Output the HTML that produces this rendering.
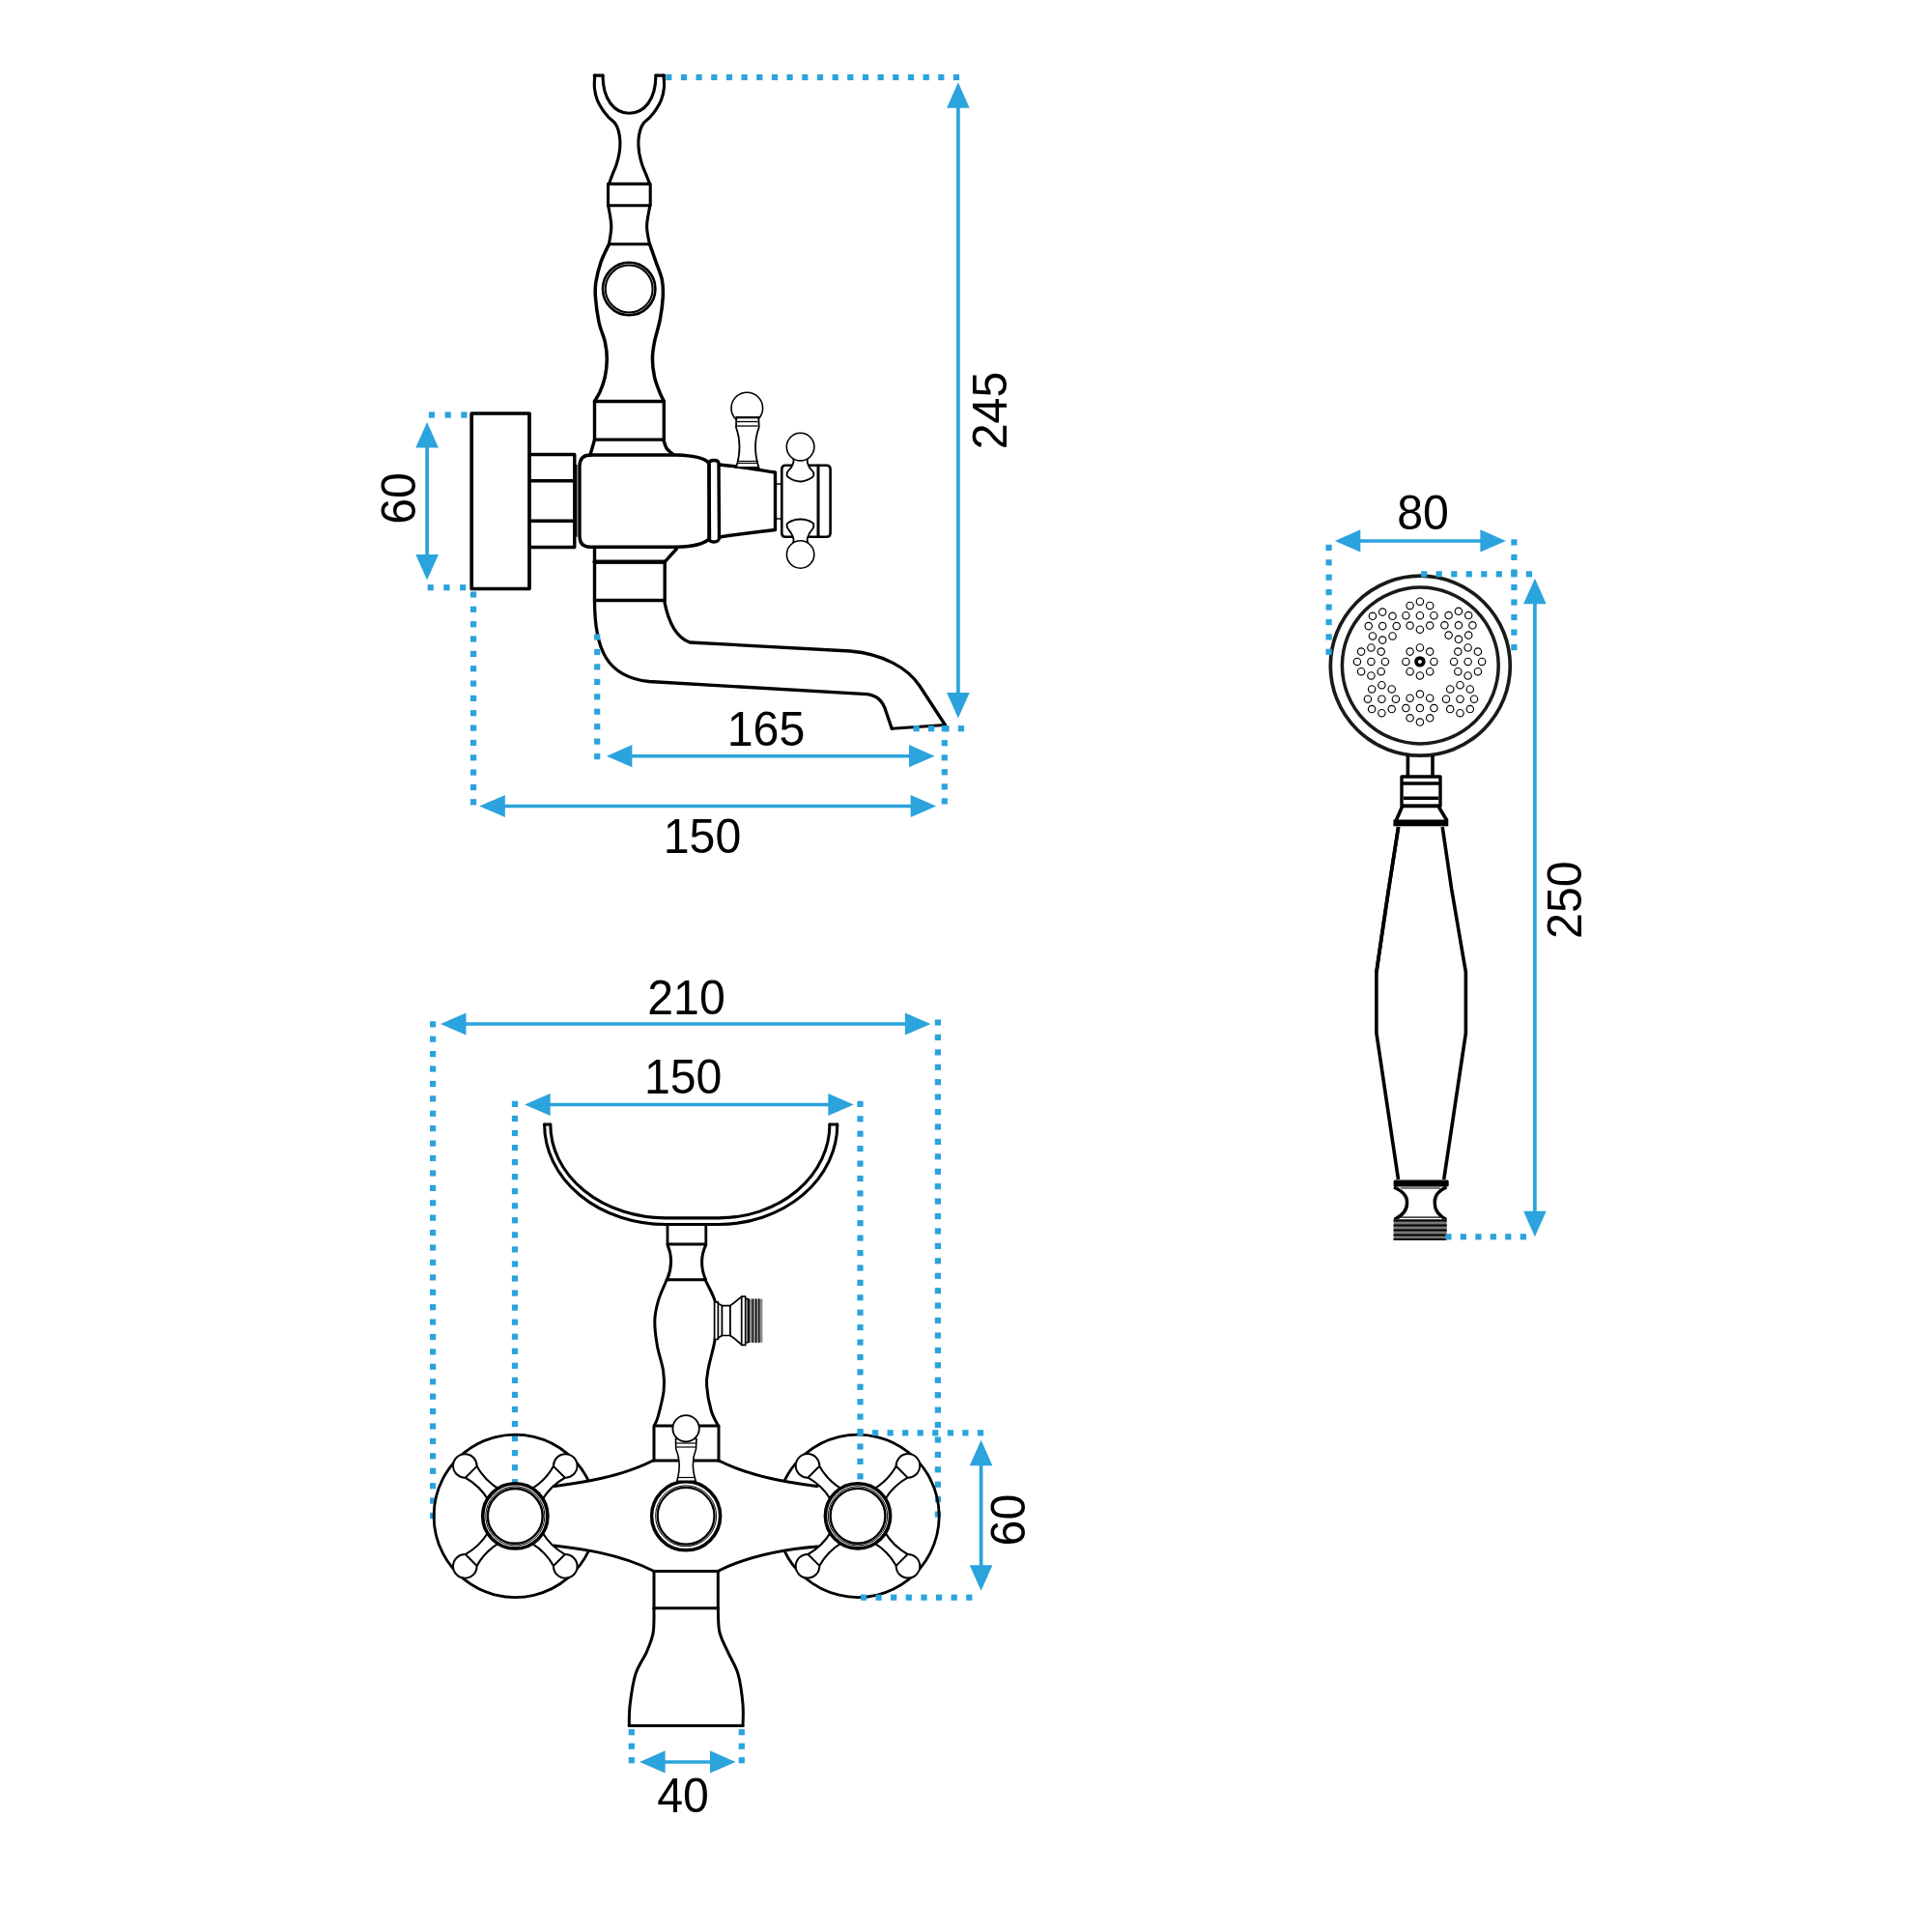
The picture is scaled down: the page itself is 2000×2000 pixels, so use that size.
<!DOCTYPE html>
<html><head><meta charset="utf-8"><style>
html,body{margin:0;padding:0;background:#fff;}
svg{display:block;}
text{font-family:"Liberation Sans",sans-serif;fill:#000;}
</style></head><body>
<svg width="2000" height="2000" viewBox="0 0 2000 2000">
<rect width="2000" height="2000" fill="#fff"/>
<g fill="none" stroke="#000" stroke-linejoin="round" stroke-linecap="round">
<path d="M615.7 78.1 C615.7 80.2 615.0 86.8 615.4 91.0 C615.8 95.2 616.9 99.8 618.3 103.5 C619.6 107.2 621.6 110.2 623.5 113.1 C625.4 116.0 627.6 118.7 629.7 121.1 C631.9 123.5 634.7 125.1 636.4 127.3 C638.1 129.5 639.1 131.4 640.0 134.5 C640.9 137.6 641.7 142.0 641.9 146.0 C642.1 150.0 641.8 154.2 641.1 158.3 C640.5 162.4 639.2 167.0 638.0 170.8 C636.8 174.6 635.0 177.8 633.8 181.1 C632.5 184.4 631.0 188.8 630.5 190.4" stroke-width="3.1" />
<path d="M624 78.1 C624 103, 636 117.2, 651.4 117.2 C667 117.2, 678.9 103, 678.9 78.1" stroke-width="3.1" />
<path d="M687.1 78.1 C687.1 80.2 687.8 86.8 687.4 91.0 C687.0 95.2 685.9 99.8 684.5 103.5 C683.1 107.2 681.2 110.2 679.3 113.1 C677.4 116.0 675.2 118.7 673.1 121.1 C671.0 123.5 668.1 125.1 666.4 127.3 C664.7 129.5 663.7 131.4 662.8 134.5 C661.9 137.6 661.1 142.0 660.9 146.0 C660.7 150.0 661.1 154.2 661.7 158.3 C662.4 162.4 663.6 167.0 664.8 170.8 C666.0 174.6 667.7 177.8 669.0 181.1 C670.3 184.4 672.0 188.8 672.6 190.4" stroke-width="3.1" />
<line x1="615.2" y1="78.1" x2="624.0" y2="78.1" stroke-width="3.1"/>
<line x1="678.9" y1="78.1" x2="687.7" y2="78.1" stroke-width="3.1"/>
<path d="M629.5 190.4 L673.2 190.4 L673.2 212.7 L629.5 212.7 Z" stroke-width="3.1" />
<path d="M629.7 213.0 C630.2 216.5 632.7 227.3 632.8 233.9 C632.9 240.5 630.8 249.6 630.4 252.7" stroke-width="3.1" />
<path d="M672.8 213.0 C672.3 216.5 669.7 227.3 669.6 233.9 C669.5 240.5 671.9 249.6 672.4 252.7" stroke-width="3.1" />
<line x1="630.4" y1="252.7" x2="672.6" y2="252.7" stroke-width="3.1"/>
<path d="M630.4 252.9 C629.0 255.9 624.4 264.6 622.1 271.1 C619.9 277.6 617.9 285.8 616.9 291.8 C615.9 297.8 615.9 300.4 616.4 307.3 C616.9 314.2 618.4 325.7 620.0 333.5 C621.6 341.3 624.9 347.6 626.3 353.9 C627.7 360.2 628.3 365.5 628.3 371.5 C628.3 377.5 627.5 384.4 626.3 390.1 C625.1 395.8 622.9 401.4 621.1 405.6 C619.3 409.8 616.4 413.7 615.5 415.3" stroke-width="3.5" />
<path d="M672.6 252.9 C673.7 255.9 676.9 265.0 679.0 271.1 C681.1 277.2 684.1 283.7 685.3 289.7 C686.5 295.7 686.6 300.4 686.3 307.3 C685.9 314.2 684.7 323.3 683.2 331.1 C681.7 338.9 678.8 347.2 677.5 353.9 C676.2 360.6 675.4 365.5 675.4 371.5 C675.4 377.5 676.3 384.4 677.5 390.1 C678.7 395.8 681.1 401.4 682.7 405.6 C684.3 409.8 686.5 413.7 687.3 415.3" stroke-width="3.5" />
<circle cx="651.2" cy="299" r="27.2" stroke-width="2.6"/>
<circle cx="651.2" cy="299" r="24.4" stroke-width="2.0"/>
<path d="M615.5 415.5 L687.3 415.5 M615.5 415.5 L615.5 455.1 M687.3 415.5 L687.3 455.1 M615.5 455.1 L687.3 455.1" stroke-width="3.4" />
<path d="M615.5 455.1 C615.1 456.6 613.8 461.3 613.0 464.0 C612.2 466.7 611.2 470.2 610.8 471.4" stroke-width="3.4" />
<path d="M686.9 455.1 C687.4 456.6 688.3 461.4 690.0 464.0 C691.7 466.6 695.8 469.4 697.0 470.5" stroke-width="3.4" />
<path d="M611 471 L700 471 C718 471.5, 730 474, 734 479.5 L734.5 557.5 C730 562.5, 718 565.8, 700 566.2 L611 566.2 C603.5 566.2, 600 562, 600 555 L600 483 C600 475, 603.5 471, 611 471 Z" stroke-width="3.4" />
<line x1="596.8" y1="481.5" x2="596.8" y2="555.3" stroke-width="1.5"/>
<path d="M488.2 428 L548 428 L548 609.5 L488.2 609.5 Z" stroke-width="3.7" />
<path d="M549 470.5 L594.8 470.5 L594.8 566.5 L549 566.5 M549 497.8 L594.8 497.8 M549 539.2 L594.8 539.2" stroke-width="3.4" />
<path d="M615.5 567 L615.5 621.5 M688.2 581.7 L688.2 621.5 M615.5 581.7 L688.2 581.7 M615.5 621.5 L688.2 621.5" stroke-width="3.4" />
<path d="M700.5 568 L688.2 581.7" stroke-width="3.4" />
<line x1="615.5" y1="581.7" x2="688.2" y2="581.7" stroke-width="4.2"/>
<path d="M615.5 621.5 C615.5 672, 628 701, 672 705.5 L898 718.7 C908 720, 914 726, 917 736 L923.2 754.2" stroke-width="3.3" />
<path d="M687.6 621.5 C692 645, 700 660, 714 665 L880 674 C915 677, 940 692, 952 710 L978.4 750.5" stroke-width="3.3" />
<line x1="923.2" y1="754.2" x2="978.4" y2="750.5" stroke-width="3.0"/>
<path d="M734 480 C734 477.5, 736 476.5, 739 476.5 C742 476.5, 744 477.5, 744 480 L744.5 557 C744.5 559.5, 742 561, 739 561 C736 561, 734 559.5, 734 557 Z" stroke-width="3.4" />
<path d="M744.7 481 C765 483, 785 486.5, 802.5 489 L802.5 548.5 C785 550.5, 765 553, 744.7 556" stroke-width="3.4" />
<path d="M802.5 501 L809.3 501 M802.5 537 L809.3 537" stroke-width="1.5" />
<path d="M813 481.8 L855.5 481.8 C858.3 481.8, 859.6 483.5, 859.6 486 L859.6 551.5 C859.6 554, 858.3 555.8, 855.5 555.8 L813 555.8 C810.5 555.8, 809.3 554, 809.3 551.5 L809.3 486 C809.3 483.5, 810.5 481.8, 813 481.8 Z" stroke-width="2.6" />
<line x1="847.0" y1="482.0" x2="847.0" y2="555.5" stroke-width="3"/>
</g>
<g fill="#fff" stroke="#000" stroke-width="1.6">
<path d="M820.5 472.0 C820.7 473.0 821.8 476.0 821.5 478.0 C821.2 480.0 820.1 482.2 819.0 484.0 C817.9 485.8 815.5 487.3 815.0 489.0 C814.5 490.7 813.7 492.4 816.0 494.0 C818.3 495.6 824.4 498.5 828.6 498.5 C832.8 498.5 838.8 495.6 841.0 494.0 C843.2 492.4 842.5 490.7 842.0 489.0 C841.5 487.3 839.0 485.8 838.0 484.0 C837.0 482.2 835.9 480.0 835.7 478.0 C835.5 476.0 836.5 473.0 836.7 472.0" stroke-width="1.8" />
<circle cx="828.6" cy="462.6" r="14.3"/>
<path d="M820.5 564.0 C820.7 563.0 821.8 560.0 821.5 558.0 C821.2 556.0 820.1 554.0 819.0 552.0 C817.9 550.0 815.5 547.8 815.0 546.0 C814.5 544.2 813.7 542.4 816.0 541.0 C818.3 539.6 824.4 537.5 828.6 537.5 C832.8 537.5 838.8 539.6 841.0 541.0 C843.2 542.4 842.5 544.2 842.0 546.0 C841.5 547.8 839.0 550.0 838.0 552.0 C837.0 554.0 835.9 556.0 835.7 558.0 C835.5 560.0 836.5 563.0 836.7 564.0" stroke-width="1.8" />
<circle cx="828.6" cy="574" r="14.2"/>
<circle cx="773.3" cy="422.5" r="16.3"/>
<path d="M762.3 432 L785.3 432 L785.7 442.5 C781 455, 781 470, 785.5 484 L762 484 C766.5 470, 766.5 455, 762 442.5 Z" stroke-width="1.8" />
<line x1="762.5" y1="432.5" x2="785.0" y2="432.5" stroke-width="1.6"/>
<line x1="763.0" y1="436.5" x2="784.5" y2="436.5" stroke-width="1.3"/>
<line x1="763.0" y1="441.0" x2="784.5" y2="441.0" stroke-width="1.3"/>
<line x1="763.0" y1="477.5" x2="784.5" y2="477.5" stroke-width="1.3"/>
<line x1="763.0" y1="479.5" x2="784.5" y2="479.5" stroke-width="1.0"/>
</g>
<rect x="689.2" y="76.9" width="6.2" height="6.2" fill="#2ba3dc"/>
<rect x="704.9" y="76.9" width="6.2" height="6.2" fill="#2ba3dc"/>
<rect x="720.5" y="76.9" width="6.2" height="6.2" fill="#2ba3dc"/>
<rect x="736.2" y="76.9" width="6.2" height="6.2" fill="#2ba3dc"/>
<rect x="751.9" y="76.9" width="6.2" height="6.2" fill="#2ba3dc"/>
<rect x="767.5" y="76.9" width="6.2" height="6.2" fill="#2ba3dc"/>
<rect x="783.2" y="76.9" width="6.2" height="6.2" fill="#2ba3dc"/>
<rect x="798.9" y="76.9" width="6.2" height="6.2" fill="#2ba3dc"/>
<rect x="814.5" y="76.9" width="6.2" height="6.2" fill="#2ba3dc"/>
<rect x="830.2" y="76.9" width="6.2" height="6.2" fill="#2ba3dc"/>
<rect x="845.9" y="76.9" width="6.2" height="6.2" fill="#2ba3dc"/>
<rect x="861.6" y="76.9" width="6.2" height="6.2" fill="#2ba3dc"/>
<rect x="877.2" y="76.9" width="6.2" height="6.2" fill="#2ba3dc"/>
<rect x="892.9" y="76.9" width="6.2" height="6.2" fill="#2ba3dc"/>
<rect x="908.6" y="76.9" width="6.2" height="6.2" fill="#2ba3dc"/>
<rect x="924.2" y="76.9" width="6.2" height="6.2" fill="#2ba3dc"/>
<rect x="939.9" y="76.9" width="6.2" height="6.2" fill="#2ba3dc"/>
<rect x="955.6" y="76.9" width="6.2" height="6.2" fill="#2ba3dc"/>
<rect x="971.2" y="76.9" width="6.2" height="6.2" fill="#2ba3dc"/>
<rect x="986.9" y="76.9" width="6.2" height="6.2" fill="#2ba3dc"/>
<line x1="991.9" y1="110.7" x2="991.9" y2="718.1" stroke="#2ba3dc" stroke-width="3.7"/>
<polygon points="991.9,85.2 980.1,111.7 1003.7,111.7" fill="#2ba3dc"/>
<polygon points="991.9,743.6 980.1,717.1 1003.7,717.1" fill="#2ba3dc"/>
<rect x="945.5" y="751.1" width="6.2" height="6.2" fill="#2ba3dc"/>
<rect x="961.0" y="751.1" width="6.2" height="6.2" fill="#2ba3dc"/>
<rect x="976.4" y="751.1" width="6.2" height="6.2" fill="#2ba3dc"/>
<rect x="991.9" y="751.1" width="6.2" height="6.2" fill="#2ba3dc"/>
<text transform="translate(1025.0 425.0) rotate(-90) scale(0.965 1)" x="0" y="17.3" text-anchor="middle" font-size="50">245</text>
<rect x="443.9" y="426.4" width="6.2" height="6.2" fill="#2ba3dc"/>
<rect x="460.6" y="426.4" width="6.2" height="6.2" fill="#2ba3dc"/>
<rect x="477.3" y="426.4" width="6.2" height="6.2" fill="#2ba3dc"/>
<rect x="442.6" y="605.1" width="6.2" height="6.2" fill="#2ba3dc"/>
<rect x="459.3" y="605.1" width="6.2" height="6.2" fill="#2ba3dc"/>
<rect x="476.1" y="605.1" width="6.2" height="6.2" fill="#2ba3dc"/>
<line x1="442.1" y1="462.6" x2="442.1" y2="575.1" stroke="#2ba3dc" stroke-width="3.7"/>
<polygon points="442.1,437.1 430.3,463.6 453.9,463.6" fill="#2ba3dc"/>
<polygon points="442.1,600.6 430.3,574.1 453.9,574.1" fill="#2ba3dc"/>
<text transform="translate(413.0 516.0) rotate(-90) scale(0.965 1)" x="0" y="17.3" text-anchor="middle" font-size="50">60</text>
<rect x="487.0" y="612.4" width="6.2" height="6.2" fill="#2ba3dc"/>
<rect x="487.0" y="627.7" width="6.2" height="6.2" fill="#2ba3dc"/>
<rect x="487.0" y="643.1" width="6.2" height="6.2" fill="#2ba3dc"/>
<rect x="487.0" y="658.4" width="6.2" height="6.2" fill="#2ba3dc"/>
<rect x="487.0" y="673.8" width="6.2" height="6.2" fill="#2ba3dc"/>
<rect x="487.0" y="689.1" width="6.2" height="6.2" fill="#2ba3dc"/>
<rect x="487.0" y="704.5" width="6.2" height="6.2" fill="#2ba3dc"/>
<rect x="487.0" y="719.8" width="6.2" height="6.2" fill="#2ba3dc"/>
<rect x="487.0" y="735.1" width="6.2" height="6.2" fill="#2ba3dc"/>
<rect x="487.0" y="750.5" width="6.2" height="6.2" fill="#2ba3dc"/>
<rect x="487.0" y="765.8" width="6.2" height="6.2" fill="#2ba3dc"/>
<rect x="487.0" y="781.2" width="6.2" height="6.2" fill="#2ba3dc"/>
<rect x="487.0" y="796.5" width="6.2" height="6.2" fill="#2ba3dc"/>
<rect x="487.0" y="811.9" width="6.2" height="6.2" fill="#2ba3dc"/>
<rect x="487.0" y="827.2" width="6.2" height="6.2" fill="#2ba3dc"/>
<rect x="615.1" y="656.4" width="6.2" height="6.2" fill="#2ba3dc"/>
<rect x="615.1" y="671.9" width="6.2" height="6.2" fill="#2ba3dc"/>
<rect x="615.1" y="687.3" width="6.2" height="6.2" fill="#2ba3dc"/>
<rect x="615.1" y="702.8" width="6.2" height="6.2" fill="#2ba3dc"/>
<rect x="615.1" y="718.2" width="6.2" height="6.2" fill="#2ba3dc"/>
<rect x="615.1" y="733.6" width="6.2" height="6.2" fill="#2ba3dc"/>
<rect x="615.1" y="749.1" width="6.2" height="6.2" fill="#2ba3dc"/>
<rect x="615.1" y="764.5" width="6.2" height="6.2" fill="#2ba3dc"/>
<rect x="615.1" y="780.0" width="6.2" height="6.2" fill="#2ba3dc"/>
<rect x="974.7" y="751.1" width="6.2" height="6.2" fill="#2ba3dc"/>
<rect x="974.7" y="766.1" width="6.2" height="6.2" fill="#2ba3dc"/>
<rect x="974.7" y="781.2" width="6.2" height="6.2" fill="#2ba3dc"/>
<rect x="974.7" y="796.2" width="6.2" height="6.2" fill="#2ba3dc"/>
<rect x="974.7" y="811.3" width="6.2" height="6.2" fill="#2ba3dc"/>
<rect x="974.7" y="826.3" width="6.2" height="6.2" fill="#2ba3dc"/>
<line x1="653.4" y1="782.7" x2="942.0" y2="782.7" stroke="#2ba3dc" stroke-width="3.5"/>
<polygon points="627.9,782.7 654.4,771.1 654.4,794.3" fill="#2ba3dc"/>
<polygon points="967.5,782.7 941.0,771.1 941.0,794.3" fill="#2ba3dc"/>
<text transform="translate(793.0 754.2) scale(0.965 1)" x="0" y="17.3" text-anchor="middle" font-size="50">165</text>
<line x1="521.8" y1="834.5" x2="943.7" y2="834.5" stroke="#2ba3dc" stroke-width="3.5"/>
<polygon points="496.3,834.5 522.8,822.9 522.8,846.1" fill="#2ba3dc"/>
<polygon points="969.2,834.5 942.7,822.9 942.7,846.1" fill="#2ba3dc"/>
<text transform="translate(727.0 865.8) scale(0.965 1)" x="0" y="17.3" text-anchor="middle" font-size="50">150</text>
<g fill="none" stroke="#000" stroke-linejoin="round">
<circle cx="1470.3" cy="689.2" r="93" stroke-width="3.7" stroke="#1a1a1a"/>
<circle cx="1470.3" cy="689" r="80.9" stroke-width="3.5" stroke="#1a1a1a"/>
<circle cx="1469.9" cy="684.9" r="3.85" stroke-width="3.7"/>
<circle cx="1469.9" cy="670.4" r="3.7" stroke-width="1.15"/>
<circle cx="1480.2" cy="674.6" r="3.7" stroke-width="1.15"/>
<circle cx="1484.4" cy="684.9" r="3.7" stroke-width="1.15"/>
<circle cx="1480.2" cy="695.2" r="3.7" stroke-width="1.15"/>
<circle cx="1469.9" cy="699.4" r="3.7" stroke-width="1.15"/>
<circle cx="1459.6" cy="695.2" r="3.7" stroke-width="1.15"/>
<circle cx="1455.4" cy="684.9" r="3.7" stroke-width="1.15"/>
<circle cx="1459.6" cy="674.6" r="3.7" stroke-width="1.15"/>
<circle cx="1469.9" cy="637.2" r="3.7" stroke-width="1.15"/>
<circle cx="1469.9" cy="622.7" r="3.7" stroke-width="1.15"/>
<circle cx="1480.2" cy="626.9" r="3.7" stroke-width="1.15"/>
<circle cx="1484.4" cy="637.2" r="3.7" stroke-width="1.15"/>
<circle cx="1480.2" cy="647.5" r="3.7" stroke-width="1.15"/>
<circle cx="1469.9" cy="651.7" r="3.7" stroke-width="1.15"/>
<circle cx="1459.6" cy="647.5" r="3.7" stroke-width="1.15"/>
<circle cx="1455.4" cy="637.2" r="3.7" stroke-width="1.15"/>
<circle cx="1459.6" cy="626.9" r="3.7" stroke-width="1.15"/>
<circle cx="1431.2" cy="648.1" r="3.7" stroke-width="1.15"/>
<circle cx="1431.2" cy="633.6" r="3.7" stroke-width="1.15"/>
<circle cx="1441.5" cy="637.8" r="3.7" stroke-width="1.15"/>
<circle cx="1445.7" cy="648.1" r="3.7" stroke-width="1.15"/>
<circle cx="1441.5" cy="658.4" r="3.7" stroke-width="1.15"/>
<circle cx="1431.2" cy="662.6" r="3.7" stroke-width="1.15"/>
<circle cx="1420.9" cy="658.4" r="3.7" stroke-width="1.15"/>
<circle cx="1416.7" cy="648.1" r="3.7" stroke-width="1.15"/>
<circle cx="1420.9" cy="637.8" r="3.7" stroke-width="1.15"/>
<circle cx="1509.9" cy="647.3" r="3.7" stroke-width="1.15"/>
<circle cx="1509.9" cy="632.8" r="3.7" stroke-width="1.15"/>
<circle cx="1520.2" cy="637.0" r="3.7" stroke-width="1.15"/>
<circle cx="1524.4" cy="647.3" r="3.7" stroke-width="1.15"/>
<circle cx="1520.2" cy="657.6" r="3.7" stroke-width="1.15"/>
<circle cx="1509.9" cy="661.8" r="3.7" stroke-width="1.15"/>
<circle cx="1499.6" cy="657.6" r="3.7" stroke-width="1.15"/>
<circle cx="1495.4" cy="647.3" r="3.7" stroke-width="1.15"/>
<circle cx="1499.6" cy="637.0" r="3.7" stroke-width="1.15"/>
<circle cx="1419.4" cy="684.9" r="3.7" stroke-width="1.15"/>
<circle cx="1419.4" cy="670.4" r="3.7" stroke-width="1.15"/>
<circle cx="1429.7" cy="674.6" r="3.7" stroke-width="1.15"/>
<circle cx="1433.9" cy="684.9" r="3.7" stroke-width="1.15"/>
<circle cx="1429.7" cy="695.2" r="3.7" stroke-width="1.15"/>
<circle cx="1419.4" cy="699.4" r="3.7" stroke-width="1.15"/>
<circle cx="1409.1" cy="695.2" r="3.7" stroke-width="1.15"/>
<circle cx="1404.9" cy="684.9" r="3.7" stroke-width="1.15"/>
<circle cx="1409.1" cy="674.6" r="3.7" stroke-width="1.15"/>
<circle cx="1519.6" cy="684.9" r="3.7" stroke-width="1.15"/>
<circle cx="1519.6" cy="670.4" r="3.7" stroke-width="1.15"/>
<circle cx="1529.9" cy="674.6" r="3.7" stroke-width="1.15"/>
<circle cx="1534.1" cy="684.9" r="3.7" stroke-width="1.15"/>
<circle cx="1529.9" cy="695.2" r="3.7" stroke-width="1.15"/>
<circle cx="1519.6" cy="699.4" r="3.7" stroke-width="1.15"/>
<circle cx="1509.3" cy="695.2" r="3.7" stroke-width="1.15"/>
<circle cx="1505.1" cy="684.9" r="3.7" stroke-width="1.15"/>
<circle cx="1509.3" cy="674.6" r="3.7" stroke-width="1.15"/>
<circle cx="1430.4" cy="723.7" r="3.7" stroke-width="1.15"/>
<circle cx="1430.4" cy="709.2" r="3.7" stroke-width="1.15"/>
<circle cx="1440.7" cy="713.4" r="3.7" stroke-width="1.15"/>
<circle cx="1444.9" cy="723.7" r="3.7" stroke-width="1.15"/>
<circle cx="1440.7" cy="734.0" r="3.7" stroke-width="1.15"/>
<circle cx="1430.4" cy="738.2" r="3.7" stroke-width="1.15"/>
<circle cx="1420.1" cy="734.0" r="3.7" stroke-width="1.15"/>
<circle cx="1415.9" cy="723.7" r="3.7" stroke-width="1.15"/>
<circle cx="1420.1" cy="713.4" r="3.7" stroke-width="1.15"/>
<circle cx="1469.9" cy="733.0" r="3.7" stroke-width="1.15"/>
<circle cx="1469.9" cy="718.5" r="3.7" stroke-width="1.15"/>
<circle cx="1480.2" cy="722.7" r="3.7" stroke-width="1.15"/>
<circle cx="1484.4" cy="733.0" r="3.7" stroke-width="1.15"/>
<circle cx="1480.2" cy="743.3" r="3.7" stroke-width="1.15"/>
<circle cx="1469.9" cy="747.5" r="3.7" stroke-width="1.15"/>
<circle cx="1459.6" cy="743.3" r="3.7" stroke-width="1.15"/>
<circle cx="1455.4" cy="733.0" r="3.7" stroke-width="1.15"/>
<circle cx="1459.6" cy="722.7" r="3.7" stroke-width="1.15"/>
<circle cx="1511.5" cy="723.7" r="3.7" stroke-width="1.15"/>
<circle cx="1511.5" cy="709.2" r="3.7" stroke-width="1.15"/>
<circle cx="1521.8" cy="713.4" r="3.7" stroke-width="1.15"/>
<circle cx="1526.0" cy="723.7" r="3.7" stroke-width="1.15"/>
<circle cx="1521.8" cy="734.0" r="3.7" stroke-width="1.15"/>
<circle cx="1511.5" cy="738.2" r="3.7" stroke-width="1.15"/>
<circle cx="1501.2" cy="734.0" r="3.7" stroke-width="1.15"/>
<circle cx="1497.0" cy="723.7" r="3.7" stroke-width="1.15"/>
<circle cx="1501.2" cy="713.4" r="3.7" stroke-width="1.15"/>
<path d="M1457.4 782 L1457.4 804 M1483 782 L1483 804" stroke-width="3.6" />
<path d="M1451 804 L1491 804 L1491 834.5 L1451 834.5 Z" stroke-width="3.4" />
<line x1="1451.0" y1="811.0" x2="1491.0" y2="811.0" stroke-width="3.4"/>
<line x1="1453.0" y1="826.2" x2="1489.0" y2="826.2" stroke-width="3.4"/>
<line x1="1451.0" y1="833.5" x2="1491.0" y2="833.5" stroke-width="2"/>
<path d="M1451.3 835.5 L1445.2 849.5 M1489.5 835.5 L1497.9 849.5" stroke-width="3.6" />
<rect x="1442.4" y="848.5" width="56.9" height="6.8" fill="#000" stroke="none"/>
<path d="M1447.6 856.0 C1445.4 870.0 1438.3 914.9 1434.5 940.0 C1430.7 965.1 1426.5 995.4 1424.9 1006.5" stroke-width="3.6" />
<path d="M1447.6 856 L1437.7 920 L1424.9 1006.5 L1424.9 1069.5 L1447.5 1221" stroke-width="3.6" />
<path d="M1493.2 856 L1502.6 920 L1517.4 1006.5 L1517.4 1069.5 L1494.7 1221" stroke-width="3.6" />
<rect x="1442.6" y="1221.5" width="57.1" height="7" rx="1.5" fill="#000" stroke="none"/>
<path d="M1443 1229 C1452 1233, 1457 1238, 1456.5 1245 C1457 1252, 1452 1258, 1443.5 1262.5" stroke-width="3.4" />
<line x1="1450.0" y1="1230.0" x2="1491.0" y2="1230.0" stroke-width="1.2"/>
<line x1="1450.0" y1="1260.2" x2="1491.0" y2="1260.2" stroke-width="1.2"/>
<path d="M1497.4 1229 C1488 1233, 1485 1238, 1485.2 1245 C1485 1252, 1489 1258, 1497.1 1262.5" stroke-width="3.4" />
<rect x="1442.6" y="1262.2" width="55.1" height="21.7" fill="#777" stroke="none"/>
<line x1="1442.6" y1="1263.5" x2="1497.7" y2="1263.5" stroke-width="2"/>
<line x1="1442.6" y1="1268.5" x2="1497.7" y2="1268.5" stroke-width="2"/>
<line x1="1442.6" y1="1273.5" x2="1497.7" y2="1273.5" stroke-width="2"/>
<line x1="1442.6" y1="1278.5" x2="1497.7" y2="1278.5" stroke-width="2"/>
<line x1="1442.6" y1="1283.0" x2="1497.7" y2="1283.0" stroke-width="2"/>
</g>
<rect x="1471.1" y="591.2" width="6.2" height="6.2" fill="#2ba3dc"/>
<rect x="1486.6" y="591.2" width="6.2" height="6.2" fill="#2ba3dc"/>
<rect x="1502.2" y="591.2" width="6.2" height="6.2" fill="#2ba3dc"/>
<rect x="1517.7" y="591.2" width="6.2" height="6.2" fill="#2ba3dc"/>
<rect x="1533.2" y="591.2" width="6.2" height="6.2" fill="#2ba3dc"/>
<rect x="1548.7" y="591.2" width="6.2" height="6.2" fill="#2ba3dc"/>
<rect x="1564.3" y="591.2" width="6.2" height="6.2" fill="#2ba3dc"/>
<rect x="1579.8" y="591.2" width="6.2" height="6.2" fill="#2ba3dc"/>
<line x1="1588.9" y1="624.2" x2="1588.9" y2="1254.8" stroke="#2ba3dc" stroke-width="3.7"/>
<polygon points="1588.9,598.7 1577.1,625.2 1600.7,625.2" fill="#2ba3dc"/>
<polygon points="1588.9,1280.3 1577.1,1253.8 1600.7,1253.8" fill="#2ba3dc"/>
<rect x="1496.3" y="1277.2" width="6.2" height="6.2" fill="#2ba3dc"/>
<rect x="1511.8" y="1277.2" width="6.2" height="6.2" fill="#2ba3dc"/>
<rect x="1527.3" y="1277.2" width="6.2" height="6.2" fill="#2ba3dc"/>
<rect x="1542.7" y="1277.2" width="6.2" height="6.2" fill="#2ba3dc"/>
<rect x="1558.2" y="1277.2" width="6.2" height="6.2" fill="#2ba3dc"/>
<rect x="1573.7" y="1277.2" width="6.2" height="6.2" fill="#2ba3dc"/>
<text transform="translate(1619.5 931.7) rotate(-90) scale(0.965 1)" x="0" y="17.3" text-anchor="middle" font-size="50">250</text>
<line x1="1407.3" y1="559.9" x2="1533.4" y2="559.9" stroke="#2ba3dc" stroke-width="3.5"/>
<polygon points="1381.8,559.9 1408.3,548.3 1408.3,571.5" fill="#2ba3dc"/>
<polygon points="1558.9,559.9 1532.4,548.3 1532.4,571.5" fill="#2ba3dc"/>
<text transform="translate(1473.0 531.0) scale(0.965 1)" x="0" y="17.3" text-anchor="middle" font-size="50">80</text>
<rect x="1372.5" y="563.8" width="6.2" height="6.2" fill="#2ba3dc"/>
<rect x="1372.5" y="579.2" width="6.2" height="6.2" fill="#2ba3dc"/>
<rect x="1372.5" y="594.6" width="6.2" height="6.2" fill="#2ba3dc"/>
<rect x="1372.5" y="610.0" width="6.2" height="6.2" fill="#2ba3dc"/>
<rect x="1372.5" y="625.5" width="6.2" height="6.2" fill="#2ba3dc"/>
<rect x="1372.5" y="640.9" width="6.2" height="6.2" fill="#2ba3dc"/>
<rect x="1372.5" y="656.3" width="6.2" height="6.2" fill="#2ba3dc"/>
<rect x="1372.5" y="671.7" width="6.2" height="6.2" fill="#2ba3dc"/>
<rect x="1564.3" y="558.3" width="6.2" height="6.2" fill="#2ba3dc"/>
<rect x="1564.3" y="573.8" width="6.2" height="6.2" fill="#2ba3dc"/>
<rect x="1564.3" y="589.4" width="6.2" height="6.2" fill="#2ba3dc"/>
<rect x="1564.3" y="604.9" width="6.2" height="6.2" fill="#2ba3dc"/>
<rect x="1564.3" y="620.4" width="6.2" height="6.2" fill="#2ba3dc"/>
<rect x="1564.3" y="635.9" width="6.2" height="6.2" fill="#2ba3dc"/>
<rect x="1564.3" y="651.5" width="6.2" height="6.2" fill="#2ba3dc"/>
<rect x="1564.3" y="667.0" width="6.2" height="6.2" fill="#2ba3dc"/>
<line x1="481.5" y1="1060.0" x2="937.9" y2="1060.0" stroke="#2ba3dc" stroke-width="3.5"/>
<polygon points="456.0,1060.0 482.5,1048.4 482.5,1071.6" fill="#2ba3dc"/>
<polygon points="963.4,1060.0 936.9,1048.4 936.9,1071.6" fill="#2ba3dc"/>
<text transform="translate(710.5 1032.3) scale(0.965 1)" x="0" y="17.3" text-anchor="middle" font-size="50">210</text>
<rect x="445.0" y="1057.2" width="6.2" height="6.2" fill="#2ba3dc"/>
<rect x="445.0" y="1072.6" width="6.2" height="6.2" fill="#2ba3dc"/>
<rect x="445.0" y="1088.0" width="6.2" height="6.2" fill="#2ba3dc"/>
<rect x="445.0" y="1103.4" width="6.2" height="6.2" fill="#2ba3dc"/>
<rect x="445.0" y="1118.9" width="6.2" height="6.2" fill="#2ba3dc"/>
<rect x="445.0" y="1134.3" width="6.2" height="6.2" fill="#2ba3dc"/>
<rect x="445.0" y="1149.7" width="6.2" height="6.2" fill="#2ba3dc"/>
<rect x="445.0" y="1165.1" width="6.2" height="6.2" fill="#2ba3dc"/>
<rect x="445.0" y="1180.5" width="6.2" height="6.2" fill="#2ba3dc"/>
<rect x="445.0" y="1195.9" width="6.2" height="6.2" fill="#2ba3dc"/>
<rect x="445.0" y="1211.4" width="6.2" height="6.2" fill="#2ba3dc"/>
<rect x="445.0" y="1226.8" width="6.2" height="6.2" fill="#2ba3dc"/>
<rect x="445.0" y="1242.2" width="6.2" height="6.2" fill="#2ba3dc"/>
<rect x="445.0" y="1257.6" width="6.2" height="6.2" fill="#2ba3dc"/>
<rect x="445.0" y="1273.0" width="6.2" height="6.2" fill="#2ba3dc"/>
<rect x="445.0" y="1288.4" width="6.2" height="6.2" fill="#2ba3dc"/>
<rect x="445.0" y="1303.8" width="6.2" height="6.2" fill="#2ba3dc"/>
<rect x="445.0" y="1319.3" width="6.2" height="6.2" fill="#2ba3dc"/>
<rect x="445.0" y="1334.7" width="6.2" height="6.2" fill="#2ba3dc"/>
<rect x="445.0" y="1350.1" width="6.2" height="6.2" fill="#2ba3dc"/>
<rect x="445.0" y="1365.5" width="6.2" height="6.2" fill="#2ba3dc"/>
<rect x="445.0" y="1380.9" width="6.2" height="6.2" fill="#2ba3dc"/>
<rect x="445.0" y="1396.3" width="6.2" height="6.2" fill="#2ba3dc"/>
<rect x="445.0" y="1411.7" width="6.2" height="6.2" fill="#2ba3dc"/>
<rect x="445.0" y="1427.2" width="6.2" height="6.2" fill="#2ba3dc"/>
<rect x="445.0" y="1442.6" width="6.2" height="6.2" fill="#2ba3dc"/>
<rect x="445.0" y="1458.0" width="6.2" height="6.2" fill="#2ba3dc"/>
<rect x="445.0" y="1473.4" width="6.2" height="6.2" fill="#2ba3dc"/>
<rect x="445.0" y="1488.8" width="6.2" height="6.2" fill="#2ba3dc"/>
<rect x="445.0" y="1504.2" width="6.2" height="6.2" fill="#2ba3dc"/>
<rect x="445.0" y="1519.7" width="6.2" height="6.2" fill="#2ba3dc"/>
<rect x="445.0" y="1535.1" width="6.2" height="6.2" fill="#2ba3dc"/>
<rect x="445.0" y="1550.5" width="6.2" height="6.2" fill="#2ba3dc"/>
<rect x="445.0" y="1565.9" width="6.2" height="6.2" fill="#2ba3dc"/>
<rect x="967.8" y="1055.4" width="6.2" height="6.2" fill="#2ba3dc"/>
<rect x="967.8" y="1070.8" width="6.2" height="6.2" fill="#2ba3dc"/>
<rect x="967.8" y="1086.3" width="6.2" height="6.2" fill="#2ba3dc"/>
<rect x="967.8" y="1101.7" width="6.2" height="6.2" fill="#2ba3dc"/>
<rect x="967.8" y="1117.1" width="6.2" height="6.2" fill="#2ba3dc"/>
<rect x="967.8" y="1132.5" width="6.2" height="6.2" fill="#2ba3dc"/>
<rect x="967.8" y="1148.0" width="6.2" height="6.2" fill="#2ba3dc"/>
<rect x="967.8" y="1163.4" width="6.2" height="6.2" fill="#2ba3dc"/>
<rect x="967.8" y="1178.8" width="6.2" height="6.2" fill="#2ba3dc"/>
<rect x="967.8" y="1194.2" width="6.2" height="6.2" fill="#2ba3dc"/>
<rect x="967.8" y="1209.7" width="6.2" height="6.2" fill="#2ba3dc"/>
<rect x="967.8" y="1225.1" width="6.2" height="6.2" fill="#2ba3dc"/>
<rect x="967.8" y="1240.5" width="6.2" height="6.2" fill="#2ba3dc"/>
<rect x="967.8" y="1256.0" width="6.2" height="6.2" fill="#2ba3dc"/>
<rect x="967.8" y="1271.4" width="6.2" height="6.2" fill="#2ba3dc"/>
<rect x="967.8" y="1286.8" width="6.2" height="6.2" fill="#2ba3dc"/>
<rect x="967.8" y="1302.2" width="6.2" height="6.2" fill="#2ba3dc"/>
<rect x="967.8" y="1317.7" width="6.2" height="6.2" fill="#2ba3dc"/>
<rect x="967.8" y="1333.1" width="6.2" height="6.2" fill="#2ba3dc"/>
<rect x="967.8" y="1348.5" width="6.2" height="6.2" fill="#2ba3dc"/>
<rect x="967.8" y="1363.9" width="6.2" height="6.2" fill="#2ba3dc"/>
<rect x="967.8" y="1379.4" width="6.2" height="6.2" fill="#2ba3dc"/>
<rect x="967.8" y="1394.8" width="6.2" height="6.2" fill="#2ba3dc"/>
<rect x="967.8" y="1410.2" width="6.2" height="6.2" fill="#2ba3dc"/>
<rect x="967.8" y="1425.7" width="6.2" height="6.2" fill="#2ba3dc"/>
<rect x="967.8" y="1441.1" width="6.2" height="6.2" fill="#2ba3dc"/>
<rect x="967.8" y="1456.5" width="6.2" height="6.2" fill="#2ba3dc"/>
<rect x="967.8" y="1471.9" width="6.2" height="6.2" fill="#2ba3dc"/>
<rect x="967.8" y="1487.4" width="6.2" height="6.2" fill="#2ba3dc"/>
<rect x="967.8" y="1502.8" width="6.2" height="6.2" fill="#2ba3dc"/>
<rect x="967.8" y="1518.2" width="6.2" height="6.2" fill="#2ba3dc"/>
<rect x="967.8" y="1533.6" width="6.2" height="6.2" fill="#2ba3dc"/>
<rect x="967.8" y="1549.1" width="6.2" height="6.2" fill="#2ba3dc"/>
<rect x="967.8" y="1564.5" width="6.2" height="6.2" fill="#2ba3dc"/>
<line x1="568.6" y1="1143.5" x2="858.3" y2="1143.5" stroke="#2ba3dc" stroke-width="3.5"/>
<polygon points="543.1,1143.5 569.6,1131.9 569.6,1155.1" fill="#2ba3dc"/>
<polygon points="883.8,1143.5 857.3,1131.9 857.3,1155.1" fill="#2ba3dc"/>
<text transform="translate(707.2 1114.9) scale(0.965 1)" x="0" y="17.3" text-anchor="middle" font-size="50">150</text>
<rect x="529.9" y="1139.8" width="6.2" height="6.2" fill="#2ba3dc"/>
<rect x="529.9" y="1154.9" width="6.2" height="6.2" fill="#2ba3dc"/>
<rect x="529.9" y="1169.9" width="6.2" height="6.2" fill="#2ba3dc"/>
<rect x="529.9" y="1185.0" width="6.2" height="6.2" fill="#2ba3dc"/>
<rect x="529.9" y="1200.0" width="6.2" height="6.2" fill="#2ba3dc"/>
<rect x="529.9" y="1215.1" width="6.2" height="6.2" fill="#2ba3dc"/>
<rect x="529.9" y="1230.1" width="6.2" height="6.2" fill="#2ba3dc"/>
<rect x="529.9" y="1245.2" width="6.2" height="6.2" fill="#2ba3dc"/>
<rect x="529.9" y="1260.2" width="6.2" height="6.2" fill="#2ba3dc"/>
<rect x="529.9" y="1275.3" width="6.2" height="6.2" fill="#2ba3dc"/>
<rect x="529.9" y="1290.3" width="6.2" height="6.2" fill="#2ba3dc"/>
<rect x="529.9" y="1305.4" width="6.2" height="6.2" fill="#2ba3dc"/>
<rect x="529.9" y="1320.4" width="6.2" height="6.2" fill="#2ba3dc"/>
<rect x="529.9" y="1335.5" width="6.2" height="6.2" fill="#2ba3dc"/>
<rect x="529.9" y="1350.5" width="6.2" height="6.2" fill="#2ba3dc"/>
<rect x="529.9" y="1365.6" width="6.2" height="6.2" fill="#2ba3dc"/>
<rect x="529.9" y="1380.6" width="6.2" height="6.2" fill="#2ba3dc"/>
<rect x="529.9" y="1395.7" width="6.2" height="6.2" fill="#2ba3dc"/>
<rect x="529.9" y="1410.7" width="6.2" height="6.2" fill="#2ba3dc"/>
<rect x="529.9" y="1425.8" width="6.2" height="6.2" fill="#2ba3dc"/>
<rect x="529.9" y="1440.8" width="6.2" height="6.2" fill="#2ba3dc"/>
<rect x="529.9" y="1455.9" width="6.2" height="6.2" fill="#2ba3dc"/>
<rect x="529.9" y="1470.9" width="6.2" height="6.2" fill="#2ba3dc"/>
<rect x="529.9" y="1486.0" width="6.2" height="6.2" fill="#2ba3dc"/>
<rect x="529.9" y="1501.0" width="6.2" height="6.2" fill="#2ba3dc"/>
<rect x="529.9" y="1516.1" width="6.2" height="6.2" fill="#2ba3dc"/>
<rect x="529.9" y="1531.1" width="6.2" height="6.2" fill="#2ba3dc"/>
<rect x="887.4" y="1139.8" width="6.2" height="6.2" fill="#2ba3dc"/>
<rect x="887.4" y="1155.2" width="6.2" height="6.2" fill="#2ba3dc"/>
<rect x="887.4" y="1170.6" width="6.2" height="6.2" fill="#2ba3dc"/>
<rect x="887.4" y="1186.0" width="6.2" height="6.2" fill="#2ba3dc"/>
<rect x="887.4" y="1201.5" width="6.2" height="6.2" fill="#2ba3dc"/>
<rect x="887.4" y="1216.9" width="6.2" height="6.2" fill="#2ba3dc"/>
<rect x="887.4" y="1232.3" width="6.2" height="6.2" fill="#2ba3dc"/>
<rect x="887.4" y="1247.7" width="6.2" height="6.2" fill="#2ba3dc"/>
<rect x="887.4" y="1263.1" width="6.2" height="6.2" fill="#2ba3dc"/>
<rect x="887.4" y="1278.5" width="6.2" height="6.2" fill="#2ba3dc"/>
<rect x="887.4" y="1294.0" width="6.2" height="6.2" fill="#2ba3dc"/>
<rect x="887.4" y="1309.4" width="6.2" height="6.2" fill="#2ba3dc"/>
<rect x="887.4" y="1324.8" width="6.2" height="6.2" fill="#2ba3dc"/>
<rect x="887.4" y="1340.2" width="6.2" height="6.2" fill="#2ba3dc"/>
<rect x="887.4" y="1355.6" width="6.2" height="6.2" fill="#2ba3dc"/>
<rect x="887.4" y="1371.0" width="6.2" height="6.2" fill="#2ba3dc"/>
<rect x="887.4" y="1386.5" width="6.2" height="6.2" fill="#2ba3dc"/>
<rect x="887.4" y="1401.9" width="6.2" height="6.2" fill="#2ba3dc"/>
<rect x="887.4" y="1417.3" width="6.2" height="6.2" fill="#2ba3dc"/>
<rect x="887.4" y="1432.7" width="6.2" height="6.2" fill="#2ba3dc"/>
<rect x="887.4" y="1448.1" width="6.2" height="6.2" fill="#2ba3dc"/>
<rect x="887.4" y="1463.5" width="6.2" height="6.2" fill="#2ba3dc"/>
<rect x="887.4" y="1479.0" width="6.2" height="6.2" fill="#2ba3dc"/>
<rect x="887.4" y="1494.4" width="6.2" height="6.2" fill="#2ba3dc"/>
<rect x="887.4" y="1509.8" width="6.2" height="6.2" fill="#2ba3dc"/>
<rect x="887.4" y="1525.2" width="6.2" height="6.2" fill="#2ba3dc"/>
<g fill="none" stroke="#000" stroke-linejoin="round" stroke-linecap="round">
<path d="M563.6 1164 A125.4 103.5 0 0 0 689 1267.5 L744 1267.5 A122.8 103.5 0 0 0 866.8 1164" stroke-width="3.1" />
<path d="M569.8 1164 A119.2 96.9 0 0 0 689 1260.9 L744 1260.9 A114.9 96.9 0 0 0 858.9 1164" stroke-width="3.1" />
<line x1="563.6" y1="1164.0" x2="569.8" y2="1164.0" stroke-width="2.9"/>
<line x1="858.9" y1="1164.0" x2="866.8" y2="1164.0" stroke-width="2.9"/>
<path d="M691 1268 L691 1288 M730.8 1268 L730.8 1288 M691 1288 L730.8 1288" stroke-width="2.8" />
<path d="M691 1288.5 Q698.5 1306 690.5 1324.8" stroke-width="3.0" />
<path d="M730.8 1288.5 Q722.5 1306 730.5 1324.8" stroke-width="3.0" />
<line x1="690.0" y1="1324.8" x2="730.6" y2="1324.8" stroke-width="3"/>
<path d="M689.7 1326.0 C688.3 1329.4 683.4 1339.7 681.4 1346.6 C679.4 1353.5 678.0 1359.5 677.8 1367.3 C677.6 1375.1 678.9 1384.6 680.4 1393.2 C681.9 1401.8 685.5 1411.2 686.6 1419.0 C687.7 1426.8 688.0 1432.0 687.1 1439.8 C686.2 1447.6 683.0 1459.6 681.4 1465.6 C679.8 1471.6 678.0 1474.3 677.3 1476.0" stroke-width="3.0" />
<path d="M730.6 1326.0 C732.2 1329.6 738.7 1340.8 740.4 1347.6 C742.1 1354.4 741.1 1360.3 741.0 1367.0 C740.9 1373.7 741.2 1379.7 739.9 1388.0 C738.6 1396.3 734.6 1409.2 733.2 1417.0 C731.8 1424.8 731.1 1427.3 731.6 1434.6 C732.1 1441.8 734.3 1453.6 736.3 1460.5 C738.3 1467.4 742.3 1473.4 743.5 1476.0" stroke-width="3.0" />
<line x1="677.3" y1="1476.0" x2="743.8" y2="1476.0" stroke-width="3"/>
<path d="M677 1476 L677 1512.1 M744 1476 L744 1512.1" stroke-width="3.0" />
<line x1="677.0" y1="1512.1" x2="744.0" y2="1512.1" stroke-width="3"/>
<path d="M573.5 1538.6 C600 1535, 640 1530, 676 1512" stroke-width="3.0" />
<path d="M573.5 1600 C600 1603, 640 1608, 676 1626" stroke-width="3.0" />
<path d="M846.1 1538.6 C820 1535, 780 1530, 744 1512" stroke-width="3.0" />
<path d="M846.1 1600.9 C820 1603, 780 1608, 744 1626" stroke-width="3.0" />
<path d="M677 1626.5 L744 1626.5 M677 1626.5 L677 1664.8 M743.3 1626.5 L743.3 1664.8" stroke-width="3.0" />
<line x1="677.0" y1="1664.8" x2="743.3" y2="1664.8" stroke-width="3"/>
<path d="M677.0 1664.8 C676.9 1669.0 677.4 1682.2 676.2 1689.7 C675.0 1697.2 672.6 1702.4 669.6 1709.6 C666.6 1716.8 660.9 1723.7 658.0 1732.8 C655.1 1741.9 653.3 1755.2 652.2 1764.2 C651.1 1773.2 651.4 1782.9 651.3 1786.6" stroke-width="3.0" />
<path d="M743.3 1664.8 C743.6 1669.0 743.1 1682.0 744.9 1689.7 C746.7 1697.4 750.8 1704.0 754.0 1711.2 C757.2 1718.4 761.5 1724.0 764.0 1732.8 C766.5 1741.6 768.2 1755.2 769.0 1764.2 C769.8 1773.2 769.0 1782.9 769.0 1786.6" stroke-width="3.0" />
<line x1="651.3" y1="1786.6" x2="769.0" y2="1786.6" stroke-width="3"/>
<path d="M739.6 1347.9 L743.4 1347.9 L743.4 1386.5 L739.6 1386.5 Z" stroke-width="1.7" fill="#fff"/>
<path d="M743.4 1349.5 L747.4 1351.6 L755.9 1351.6 L760.1 1348.5 L767.7 1342.3" stroke-width="1.7" />
<path d="M743.4 1385 L747.4 1382.5 L755.9 1382.5 L760.1 1385.5 L767.7 1392" stroke-width="1.7" />
<line x1="747.4" y1="1351.6" x2="747.4" y2="1382.5" stroke-width="1.8"/>
<line x1="755.9" y1="1351.6" x2="755.9" y2="1382.5" stroke-width="1.8"/>
<path d="M767.7 1342.1 L771.7 1342.1 L771.7 1392.3 L767.7 1392.3 Z" stroke-width="1.7" />
<rect x="774.3" y="1344.6" width="15.1" height="45.2" fill="#8c8c8c" stroke="none"/>
<path d="M771.7 1344.6 L774.3 1344.6 L774.3 1389.8 L771.7 1389.8" stroke-width="1.6" />
<line x1="775.3" y1="1344.8" x2="775.3" y2="1389.6" stroke-width="1.2"/>
<line x1="779.2" y1="1344.8" x2="779.2" y2="1389.6" stroke-width="1.2"/>
<line x1="782.6" y1="1344.8" x2="782.6" y2="1389.6" stroke-width="1.2"/>
<line x1="785.8" y1="1344.8" x2="785.8" y2="1389.6" stroke-width="1.2"/>
</g>
<g fill="none" stroke="#000" stroke-linejoin="round">
<path d="M609.6 1605.0 A84.2 84.2 0 1 1 609.6 1533.8" stroke-width="2.8"/>
<g transform="translate(533.3 1569.4) rotate(45)">
<path d="M-8.4 -64.5 A12.3 12.3 0 1 1 8.4 -64.5 Z" stroke-width="2" fill="#fff"/>
<path d="M-8.4 -64.5 Q-3.85 -48.5 -7.8 -32 M8.4 -64.5 Q3.85 -48.5 7.8 -32" stroke-width="2.1"/>
</g>
<g transform="translate(533.3 1569.4) rotate(135)">
<path d="M-8.4 -64.5 A12.3 12.3 0 1 1 8.4 -64.5 Z" stroke-width="2" fill="#fff"/>
<path d="M-8.4 -64.5 Q-3.85 -48.5 -7.8 -32 M8.4 -64.5 Q3.85 -48.5 7.8 -32" stroke-width="2.1"/>
</g>
<g transform="translate(533.3 1569.4) rotate(225)">
<path d="M-8.4 -64.5 A12.3 12.3 0 1 1 8.4 -64.5 Z" stroke-width="2" fill="#fff"/>
<path d="M-8.4 -64.5 Q-3.85 -48.5 -7.8 -32 M8.4 -64.5 Q3.85 -48.5 7.8 -32" stroke-width="2.1"/>
</g>
<g transform="translate(533.3 1569.4) rotate(315)">
<path d="M-8.4 -64.5 A12.3 12.3 0 1 1 8.4 -64.5 Z" stroke-width="2" fill="#fff"/>
<path d="M-8.4 -64.5 Q-3.85 -48.5 -7.8 -32 M8.4 -64.5 Q3.85 -48.5 7.8 -32" stroke-width="2.1"/>
</g>
<circle cx="533.3" cy="1569.4" r="33.6" stroke-width="3.6" fill="#fff"/>
<circle cx="533.3" cy="1569.4" r="30.6" stroke-width="1.0"/>
<circle cx="533.3" cy="1569.4" r="28.4" stroke-width="2.4"/>
</g>
<g fill="none" stroke="#000" stroke-linejoin="round">
<path d="M811.7 1533.7 A84.2 84.2 0 1 1 811.7 1604.9" stroke-width="2.8"/>
<g transform="translate(888.0 1569.3) rotate(45)">
<path d="M-8.4 -64.5 A12.3 12.3 0 1 1 8.4 -64.5 Z" stroke-width="2" fill="#fff"/>
<path d="M-8.4 -64.5 Q-3.85 -48.5 -7.8 -32 M8.4 -64.5 Q3.85 -48.5 7.8 -32" stroke-width="2.1"/>
</g>
<g transform="translate(888.0 1569.3) rotate(135)">
<path d="M-8.4 -64.5 A12.3 12.3 0 1 1 8.4 -64.5 Z" stroke-width="2" fill="#fff"/>
<path d="M-8.4 -64.5 Q-3.85 -48.5 -7.8 -32 M8.4 -64.5 Q3.85 -48.5 7.8 -32" stroke-width="2.1"/>
</g>
<g transform="translate(888.0 1569.3) rotate(225)">
<path d="M-8.4 -64.5 A12.3 12.3 0 1 1 8.4 -64.5 Z" stroke-width="2" fill="#fff"/>
<path d="M-8.4 -64.5 Q-3.85 -48.5 -7.8 -32 M8.4 -64.5 Q3.85 -48.5 7.8 -32" stroke-width="2.1"/>
</g>
<g transform="translate(888.0 1569.3) rotate(315)">
<path d="M-8.4 -64.5 A12.3 12.3 0 1 1 8.4 -64.5 Z" stroke-width="2" fill="#fff"/>
<path d="M-8.4 -64.5 Q-3.85 -48.5 -7.8 -32 M8.4 -64.5 Q3.85 -48.5 7.8 -32" stroke-width="2.1"/>
</g>
<circle cx="888.0" cy="1569.3" r="33.6" stroke-width="3.6" fill="#fff"/>
<circle cx="888.0" cy="1569.3" r="30.6" stroke-width="1.0"/>
<circle cx="888.0" cy="1569.3" r="28.4" stroke-width="2.4"/>
</g>
<g fill="#fff" stroke="#000">
<circle cx="710.1" cy="1569.3" r="35.5" stroke-width="3.5"/>
<circle cx="710.1" cy="1569.3" r="31.5" stroke-width="1"/>
<circle cx="710.1" cy="1569.3" r="29.4" stroke-width="2.3" fill="none"/>
<path d="M699.5 1489.5 L721 1489.5 L720.5 1500 C716.5 1510, 716.5 1522, 720.4 1533.4 L700.7 1533.4 C704 1522, 704 1510, 699.7 1500 Z" stroke-width="1.6"/>
<line x1="700" y1="1494" x2="720.5" y2="1494" stroke-width="1.2"/><line x1="700" y1="1498" x2="720.5" y2="1498" stroke-width="1.2"/><line x1="701" y1="1529.5" x2="720" y2="1529.5" stroke-width="1.2"/>
<circle cx="710.1" cy="1478.8" r="13.7" stroke-width="1.8"/>
</g>
<rect x="887.4" y="1480.2" width="6.2" height="6.2" fill="#2ba3dc"/>
<rect x="903.0" y="1480.2" width="6.2" height="6.2" fill="#2ba3dc"/>
<rect x="918.5" y="1480.2" width="6.2" height="6.2" fill="#2ba3dc"/>
<rect x="934.1" y="1480.2" width="6.2" height="6.2" fill="#2ba3dc"/>
<rect x="949.6" y="1480.2" width="6.2" height="6.2" fill="#2ba3dc"/>
<rect x="965.2" y="1480.2" width="6.2" height="6.2" fill="#2ba3dc"/>
<rect x="980.8" y="1480.2" width="6.2" height="6.2" fill="#2ba3dc"/>
<rect x="996.3" y="1480.2" width="6.2" height="6.2" fill="#2ba3dc"/>
<rect x="1011.9" y="1480.2" width="6.2" height="6.2" fill="#2ba3dc"/>
<rect x="890.9" y="1650.6" width="6.2" height="6.2" fill="#2ba3dc"/>
<rect x="906.5" y="1650.6" width="6.2" height="6.2" fill="#2ba3dc"/>
<rect x="922.1" y="1650.6" width="6.2" height="6.2" fill="#2ba3dc"/>
<rect x="937.7" y="1650.6" width="6.2" height="6.2" fill="#2ba3dc"/>
<rect x="953.4" y="1650.6" width="6.2" height="6.2" fill="#2ba3dc"/>
<rect x="969.0" y="1650.6" width="6.2" height="6.2" fill="#2ba3dc"/>
<rect x="984.6" y="1650.6" width="6.2" height="6.2" fill="#2ba3dc"/>
<rect x="1000.2" y="1650.6" width="6.2" height="6.2" fill="#2ba3dc"/>
<line x1="1015.6" y1="1516.2" x2="1015.6" y2="1621.3" stroke="#2ba3dc" stroke-width="3.7"/>
<polygon points="1015.6,1490.7 1003.8,1517.2 1027.4,1517.2" fill="#2ba3dc"/>
<polygon points="1015.6,1646.8 1003.8,1620.3 1027.4,1620.3" fill="#2ba3dc"/>
<text transform="translate(1044.0 1573.6) rotate(-90) scale(0.965 1)" x="0" y="17.3" text-anchor="middle" font-size="50">60</text>
<line x1="687.6" y1="1823.9" x2="736.0" y2="1823.9" stroke="#2ba3dc" stroke-width="3.5"/>
<polygon points="662.1,1823.9 688.6,1812.3 688.6,1835.5" fill="#2ba3dc"/>
<polygon points="761.5,1823.9 735.0,1812.3 735.0,1835.5" fill="#2ba3dc"/>
<rect x="650.7" y="1790.1" width="6.2" height="6.2" fill="#2ba3dc"/>
<rect x="650.7" y="1804.6" width="6.2" height="6.2" fill="#2ba3dc"/>
<rect x="650.7" y="1819.1" width="6.2" height="6.2" fill="#2ba3dc"/>
<rect x="764.7" y="1790.1" width="6.2" height="6.2" fill="#2ba3dc"/>
<rect x="764.7" y="1804.6" width="6.2" height="6.2" fill="#2ba3dc"/>
<rect x="764.7" y="1819.1" width="6.2" height="6.2" fill="#2ba3dc"/>
<text transform="translate(707.0 1859.0) scale(0.965 1)" x="0" y="17.3" text-anchor="middle" font-size="50">40</text>
</svg></body></html>
